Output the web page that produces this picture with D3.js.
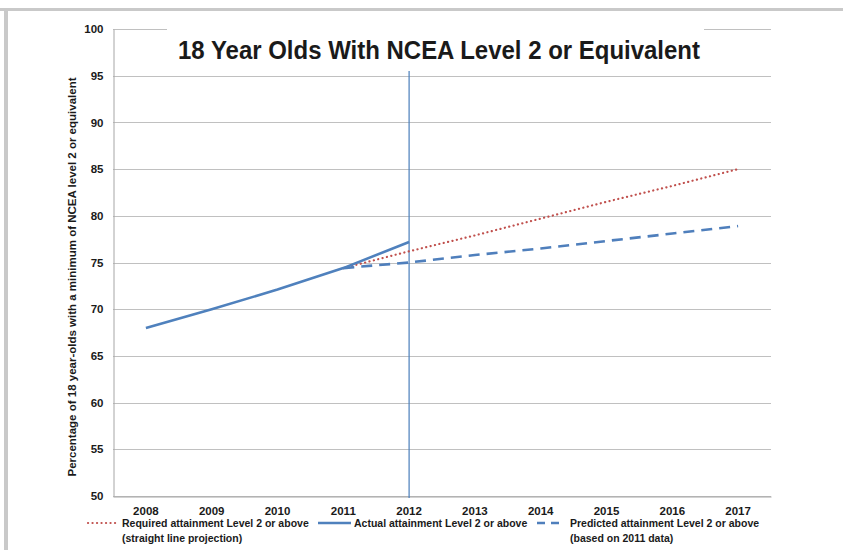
<!DOCTYPE html>
<html>
<head>
<meta charset="utf-8">
<script src="https://cdn.jsdelivr.net/npm/d3@7"></script>
<style>
  html, body { margin: 0; padding: 0; background: #fff; }
  svg { display: block; }
  text { font-family: "Liberation Sans Narrow", "Arial Narrow", "Liberation Sans", Arial, sans-serif; fill: #1a1a1a; }
</style>
</head>
<body>
<svg id="chart" width="843" height="550"></svg>
<script>
// Years on the category axis
const years = ["2008", "2009", "2010", "2011", "2012", "2013", "2014", "2015", "2016", "2017"];
// Actual attainment (%)
const actual = [68.0, 70.0, 72.1, 74.4, 77.2, null, null, null, null, null];
// Required attainment, straight-line projection (%)
const required = [null, null, null, 74.4, 76.2, 77.9, 79.7, 81.5, 83.2, 85.0];
// Predicted attainment based on 2011 data (%)
const predicted = [null, null, null, 74.4, 75.0, 75.8, 76.5, 77.3, 78.1, 78.9];
// Value-axis ticks
const yTicks = [50, 55, 60, 65, 70, 75, 80, 85, 90, 95, 100];
const markerYear = "2012";

const svg = d3.select("#chart");
const W = 843, H = 550;
const plot = { left: 113, right: 771, top: 29, bottom: 496 };

// Outer frame bands
svg.append("rect").attr("x", 0).attr("y", 0).attr("width", W).attr("height", H).attr("fill", "#fff");
svg.append("rect").attr("x", 0).attr("y", 8).attr("width", W).attr("height", 3).attr("fill", "#c9c9c9");
svg.append("rect").attr("x", 4).attr("y", 8).attr("width", 4).attr("height", H - 8).attr("fill", "#c9c9c9");

const x = d3.scaleBand().domain(years).range([plot.left, plot.right]).padding(0);
const cx = d => x(d) + x.bandwidth() / 2;
const y = d3.scaleLinear().domain([50, 100]).range([plot.bottom, plot.top]);

// Horizontal gridlines
svg.append("g").selectAll("line").data(yTicks).join("line")
  .attr("x1", plot.left).attr("x2", plot.right)
  .attr("y1", d => Math.round(y(d)) + 0.5).attr("y2", d => Math.round(y(d)) + 0.5)
  .attr("stroke", "#c0c0c0").attr("stroke-width", 1);

// Left axis line and labels
const yAxis = d3.axisLeft(y).tickValues(yTicks).tickSize(0).tickPadding(10);
const gy = svg.append("g").attr("transform", `translate(${plot.left + 0.5},0)`).call(yAxis);
gy.select(".domain").attr("stroke", "#a6a6a6");
gy.selectAll("text").attr("font-size", 11.5).attr("font-weight", "bold").style("font-family", "'Liberation Sans Narrow', Arial, sans-serif");

// Bottom axis labels
const xAxis = d3.axisBottom(x).tickSize(0).tickPadding(10);
const gx = svg.append("g").attr("transform", `translate(0,${Math.round(plot.bottom) + 0.5})`).call(xAxis);
gx.select(".domain").attr("stroke", "#a6a6a6");
gx.selectAll("text").attr("font-size", 11.5).attr("font-weight", "bold").style("font-family", "'Liberation Sans Narrow', Arial, sans-serif");

// Vertical marker at the current year
svg.append("line")
  .attr("x1", cx(markerYear)).attr("x2", cx(markerYear))
  .attr("y1", plot.top).attr("y2", plot.bottom + 2)
  .attr("stroke", "#4a7ebb").attr("stroke-width", 1.2);

const line = d3.line()
  .defined(d => d.v !== null)
  .x(d => cx(d.year))
  .y(d => y(d.v));
const toPts = arr => years.map((yr, i) => ({ year: yr, v: arr[i] }));

// Required (red dotted)
svg.append("path").datum(toPts(required)).attr("d", line)
  .attr("fill", "none").attr("stroke", "#c0504d").attr("stroke-width", 2.2)
  .attr("stroke-dasharray", "0.1 4.4").attr("stroke-linecap", "round");

// Predicted (blue dashed)
svg.append("path").datum(toPts(predicted)).attr("d", line)
  .attr("fill", "none").attr("stroke", "#4f7fbc").attr("stroke-width", 2.6)
  .attr("stroke-dasharray", "11 7");

// Actual (blue solid)
svg.append("path").datum(toPts(actual)).attr("d", line)
  .attr("fill", "none").attr("stroke", "#4f81bd").attr("stroke-width", 2.6)
  .attr("stroke-linejoin", "round");

// Title with white backing box
svg.append("rect").attr("x", 167).attr("y", 27).attr("width", 537).attr("height", 44).attr("fill", "#fff");
svg.append("text")
  .attr("x", 439).attr("y", 59)
  .attr("text-anchor", "middle")
  .attr("font-size", 25).attr("font-weight", "bold")
  .attr("textLength", 522).attr("lengthAdjust", "spacingAndGlyphs")
  .text("18 Year Olds With NCEA Level 2 or Equivalent");

// Y axis title
svg.append("text")
  .attr("transform", `translate(76,277) rotate(-90)`)
  .attr("text-anchor", "middle")
  .attr("font-size", 11.5).attr("font-weight", "bold")
  .text("Percentage of 18 year-olds with a minimum of NCEA level 2 or equivalent");

// Legend
const legend = [
  { x1: 88, x2: 117, tx: 122, color: "#c0504d", dash: "0.1 4.4", cap: "round", w: 2.2, lines: ["Required attainment Level 2 or above", "(straight line projection)"] },
  { x1: 318, x2: 351, tx: 354, color: "#4f81bd", dash: null, cap: "butt", w: 2.6, lines: ["Actual attainment Level 2 or above"] },
  { x1: 537, x2: 562, tx: 570, color: "#4f7fbc", dash: "8 6", cap: "butt", w: 2.6, lines: ["Predicted attainment Level 2 or above", "(based on 2011 data)"] }
];
const lg = svg.append("g");
legend.forEach(item => {
  lg.append("line")
    .attr("x1", item.x1).attr("x2", item.x2).attr("y1", 523).attr("y2", 523)
    .attr("stroke", item.color).attr("stroke-width", item.w)
    .attr("stroke-dasharray", item.dash).attr("stroke-linecap", item.cap);
  item.lines.forEach((t, i) => {
    lg.append("text")
      .attr("x", item.tx).attr("y", 527 + i * 15)
      .attr("font-size", 10.5).attr("font-weight", "bold")
      .text(t);
  });
});
</script>
</body>
</html>
